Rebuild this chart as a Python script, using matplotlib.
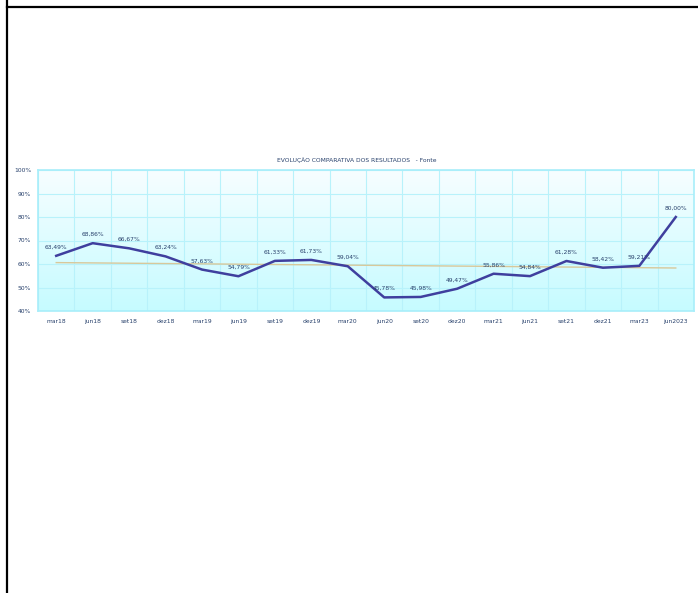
import numpy as np
import matplotlib.pyplot as plt
from matplotlib.lines import Line2D
from matplotlib.colors import LinearSegmentedColormap

# dados do gráfico
periodos = ['mar18', 'jun18', 'set18', 'dez18', 'mar19', 'jun19', 'set19', 'dez19', 'mar20',
            'jun20', 'set20', 'dez20', 'mar21', 'jun21', 'set21', 'dez21', 'mar23', 'jun2023']
resultados = [63.49, 68.86, 66.67, 63.24, 57.63, 54.79, 61.33, 61.73, 59.04,
              45.78, 45.98, 49.47, 55.86, 54.84, 61.28, 58.42, 59.21, 80.00]
rotulos = ['63,49%', '68,86%', '66,67%', '63,24%', '57,63%', '54,79%', '61,33%', '61,73%', '59,04%',
           '45,78%', '45,98%', '49,47%', '55,86%', '54,84%', '61,28%', '58,42%', '59,21%', '80,00%']
tendencia = [60.6, 58.3]  # linha de referencia (inicio, fim)
yticks = [40, 50, 60, 70, 80, 90, 100]

fig = plt.figure(figsize=(6.98, 5.93), dpi=100)
fig.patch.set_facecolor('white')

# moldura da pagina
fig.add_artist(Line2D([7.5 / 698, 7.5 / 698], [0, 1], color='black', lw=1.6))
fig.add_artist(Line2D([7.5 / 698, 1], [1 - 6.5 / 593, 1 - 6.5 / 593], color='black', lw=1.6))

ax = fig.add_axes([38 / 698, 1 - 311 / 593, (694 - 38) / 698, (311 - 170) / 593])

n = len(periodos)
x = np.arange(n)
ax.set_xlim(-0.5, n - 0.5)
ax.set_ylim(40, 100)

# fundo em degrade
cmap = LinearSegmentedColormap.from_list('fundo', ['#c6fbff', '#f7feff'])
grad = np.linspace(0, 1, 256).reshape(-1, 1)
ax.imshow(grad, extent=[-0.5, n - 0.5, 40, 100], origin='lower', aspect='auto', cmap=cmap, zorder=0)

# grade
for xv in np.arange(-0.5, n, 1):
    ax.axvline(xv, color='#b8f2fb', lw=0.8, zorder=1)
for yv in yticks:
    ax.axhline(yv, color='#b8f2fb', lw=0.8, zorder=1)

ax.plot([0, n - 1], tendencia, color='#d8c89a', lw=1.0, zorder=2)
ax.plot(x, resultados, color='#3f3f9e', lw=1.8, zorder=3)

for xi, yi, txt in zip(x, resultados, rotulos):
    ax.annotate(txt, (xi, yi), xytext=(0, 4.5), textcoords='offset points',
                ha='center', va='bottom', fontsize=4.3, color='#27406b', zorder=4)

ax.set_xticks(x)
ax.set_xticklabels(periodos, fontsize=4.3, color='#27406b')
ax.set_yticks(yticks)
ax.set_yticklabels([f'{v}%' for v in yticks], fontsize=4.3, color='#27406b')
ax.tick_params(length=0, pad=6)
ax.tick_params(axis='y', pad=5)
for s in ax.spines.values():
    s.set_color('#a8eefa')
    s.set_linewidth(1.2)

fig.text(357 / 698, 1 - 160 / 593, 'EVOLUÇÃO COMPARATIVA DOS RESULTADOS   - Fonte',
         ha='center', va='center', fontsize=4.3, color='#27406b')

fig.savefig('out.png', dpi=100)
